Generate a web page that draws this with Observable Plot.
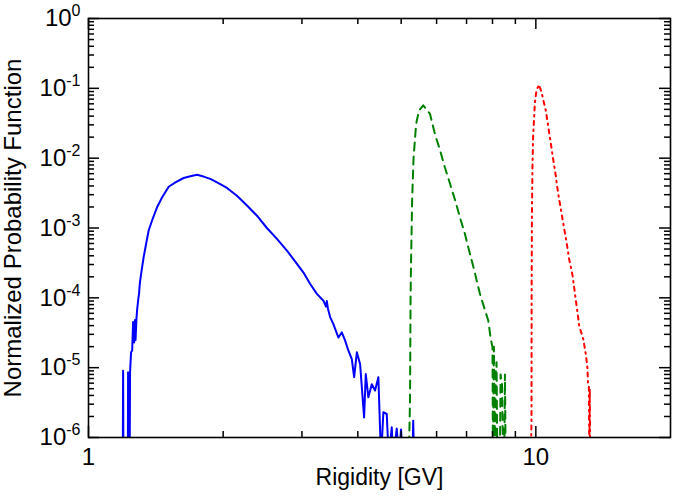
<!DOCTYPE html>
<html>
<head>
<meta charset="utf-8">
<script src="https://cdn.jsdelivr.net/npm/d3@7"></script>
<script src="https://cdn.jsdelivr.net/npm/@observablehq/plot@0.6"></script>
<style>
  html, body { margin: 0; padding: 0; background: #fff; }
</style>
</head>
<body>
<div id="chart"></div>
<script>
// ---- data ----
const blueRigidity = [1.185, 1.193, 1.195, 1.197, 1.2245, 1.226, 1.2275, 1.236, 1.2385, 1.245,
  1.252, 1.258, 1.265, 1.270, 1.274, 1.280, 1.284, 1.291, 1.298, 1.302,
  1.311, 1.328, 1.345, 1.363, 1.387, 1.423, 1.461, 1.511, 1.564, 1.632,
  1.689, 1.748, 1.808, 1.872, 1.938, 2.040, 2.147, 2.261, 2.380, 2.505,
  2.638, 2.777, 2.924, 3.024, 3.130, 3.240, 3.351, 3.395, 3.410, 3.430,
  3.469, 3.527, 3.620, 3.684, 3.747, 3.811, 3.878, 3.925, 3.980, 4.047,
  4.131, 4.167, 4.223, 4.298, 4.371, 4.446, 4.508, 4.562, 4.642, 4.690,
  4.763, 4.802, 4.887, 4.945, 4.996, 5.04, 5.30, 5.32, 5.34];
const bluePdf = [5e-7, 5e-7, 9e-6, 5e-7, 5e-7, 8.6e-6, 5e-7, 5e-7, 8.6e-6, 1.66e-5,
  1.75e-5, 4.5e-5, 2.3e-5, 4.8e-5, 2.5e-5, 5.0e-5, 6.6e-5, 9.1e-5, 1.2e-4, 1.58e-4,
  2.2e-4, 3.8e-4, 5.9e-4, 9.2e-4, 1.28e-3, 1.98e-3, 2.75e-3, 3.9e-3, 4.5e-3, 5.2e-3,
  5.5e-3, 5.8e-3, 5.45e-3, 5.05e-3, 4.5e-3, 3.75e-3, 2.9e-3, 2.1e-3, 1.5e-3, 1.0e-3,
  7.0e-4, 4.75e-4, 3.06e-4, 2.3e-4, 1.58e-4, 1.14e-4, 9.1e-5, 7.5e-5, 9.0e-5, 7.0e-5,
  5.3e-5, 4.2e-5, 2.7e-5, 3.2e-5, 2.44e-5, 1.75e-5, 1.33e-5, 7.3e-6, 1.66e-5, 1.13e-5,
  1.94e-6, 8.1e-6, 3.76e-6, 5.8e-6, 4.7e-6, 7.3e-6, 5e-7, 2.3e-6, 2.17e-6, 5e-7,
  1.4e-6, 5e-7, 1.34e-6, 5e-7, 1.3e-6, 5e-7, 5e-7, 1.74e-6, 5e-7];

const greenRigidity = [5.20, 5.233, 5.247, 5.26, 5.29, 5.33, 5.40, 5.48, 5.60, 5.80,
  5.95, 6.11, 6.26, 6.43, 6.60, 6.77, 6.94, 7.12, 7.27, 7.50,
  7.70, 7.83, 7.92, 8.00, 8.02, 8.06, 8.10, 8.14, 8.17, 8.20,
  8.31, 8.34, 8.40, 8.45, 8.50, 8.53, 8.56];
const greenPdf = [5e-7, 3.4e-6, 9e-5, 3.1e-4, 2.5e-3, 1.02e-2, 0.031, 0.048, 0.057, 0.043,
  0.022, 0.0129, 7.4e-3, 4.3e-3, 2.5e-3, 1.4e-3, 8.3e-4, 4.3e-4, 2.6e-4, 1.14e-4,
  6.6e-5, 4.7e-5, 2.7e-5, 1.95e-5, 5e-7, 2.0e-5, 5e-7, 9e-6, 1.2e-5, 5e-7,
  5e-7, 8e-6, 6e-6, 5e-7, 5e-7, 8e-6, 5e-7];

const redRigidity = [9.75, 9.78, 9.785, 9.80, 9.83, 9.86, 9.95, 10.03, 10.16, 10.30,
  10.42, 10.53, 10.65, 10.79, 10.93, 11.08, 11.21, 11.37, 11.54, 11.71,
  11.87, 12.08, 12.22, 12.43, 12.50, 12.59, 12.76, 12.93, 13.04, 13.08,
  13.14, 13.17, 13.20, 13.23];
const redPdf = [5e-7, 2e-6, 1e-4, 1.5e-3, 8e-3, 0.02, 0.061, 0.093, 0.113, 0.088,
  0.063, 0.048, 0.0295, 0.017, 9.8e-3, 5.6e-3, 3.2e-3, 1.9e-3, 1.08e-3, 6.3e-4,
  3.6e-4, 2.1e-4, 1.2e-4, 5.3e-5, 4.0e-5, 3.4e-5, 2.6e-5, 1.58e-5, 1e-5, 5.8e-6,
  5.5e-6, 5e-7, 5e-6, 5e-7];

const xMajorTicks = [1, 10];
const xMinorTicks = [2, 3, 4, 5, 6, 7, 8, 9];
const yMajorTicks = [1e-6, 1e-5, 1e-4, 1e-3, 1e-2, 1e-1, 1];
const yMinorTicks = [];
for (const e of [-6, -5, -4, -3, -2, -1]) for (let m = 2; m <= 9; m++) yMinorTicks.push(m * Math.pow(10, e));

const xLabel = "Rigidity [GV]";
const yLabel = "Normalized Probability Function";

// ---- build ----
const toRows = (xs, ys) => xs.map((x, i) => ({x, y: ys[i]}));
const blue = toRows(blueRigidity, bluePdf);
const green = toRows(greenRigidity, greenPdf);
const red = toRows(redRigidity, redPdf);

const W = 676, H = 500, mL = 88, mR = 6, mT = 18, mB = 63;
const pw = W - mL - mR, ph = H - mT - mB;
const majorLen = 11, minorLen = 6;
const tickStyle = {stroke: "black", strokeWidth: 1.5};

const chart = Plot.plot({
  width: W, height: H,
  marginLeft: mL, marginRight: mR, marginTop: mT, marginBottom: mB,
  style: {fontFamily: "'Liberation Sans', Arial, sans-serif", fontSize: "24px", background: "white", color: "black"},
  x: {type: "log", domain: [1, 20], ticks: xMajorTicks, tickFormat: d => String(d), tickSize: 0, tickPadding: 10, label: null},
  y: {type: "log", domain: [1e-6, 1], ticks: yMajorTicks, tickFormat: d => "10^" + Math.round(Math.log10(d)), tickSize: 0, tickPadding: 8, label: null},
  marks: [
    Plot.line(blue, {x: "x", y: "y", stroke: "#0000ff", strokeWidth: 2, clip: true}),
    Plot.line(green, {x: "x", y: "y", stroke: "#008000", strokeWidth: 2, strokeDasharray: "8,6", clip: true}),
    Plot.line(red, {x: "x", y: "y", stroke: "#ff0000", strokeWidth: 2, strokeDasharray: "4,4.5,1.5,4.5", clip: true}),
    // inward ticks on all four sides
    Plot.ruleX(xMajorTicks, {x: d => d, insetTop: ph - majorLen, ...tickStyle}),
    Plot.ruleX(xMajorTicks, {x: d => d, insetBottom: ph - majorLen, ...tickStyle}),
    Plot.ruleX(xMinorTicks, {x: d => d, insetTop: ph - minorLen, ...tickStyle}),
    Plot.ruleX(xMinorTicks, {x: d => d, insetBottom: ph - minorLen, ...tickStyle}),
    Plot.ruleY(yMajorTicks, {y: d => d, insetRight: pw - majorLen, ...tickStyle}),
    Plot.ruleY(yMajorTicks, {y: d => d, insetLeft: pw - majorLen, ...tickStyle}),
    Plot.ruleY(yMinorTicks, {y: d => d, insetRight: pw - minorLen, ...tickStyle}),
    Plot.ruleY(yMinorTicks, {y: d => d, insetLeft: pw - minorLen, ...tickStyle}),
    Plot.frame({stroke: "black", strokeWidth: 1.6}),
    Plot.text([xLabel], {text: d => d, frameAnchor: "bottom", textAnchor: "middle", dy: 47, fontSize: 23, fill: "black"}),
    Plot.text([yLabel], {text: d => d, frameAnchor: "left", textAnchor: "middle", dx: -75, rotate: -90, fontSize: 24, fill: "black"})
  ]
});

// superscript exponents on y tick labels
chart.querySelectorAll("text").forEach(t => {
  const m = /^10\^(-?\d+)$/.exec(t.textContent);
  if (m) {
    t.textContent = "10";
    const sp = document.createElementNS("http://www.w3.org/2000/svg", "tspan");
    sp.setAttribute("dy", "-10");
    sp.setAttribute("font-size", "16");
    sp.textContent = m[1];
    t.appendChild(sp);
  }
});

document.getElementById("chart").appendChild(chart);
</script>
</body>
</html>
